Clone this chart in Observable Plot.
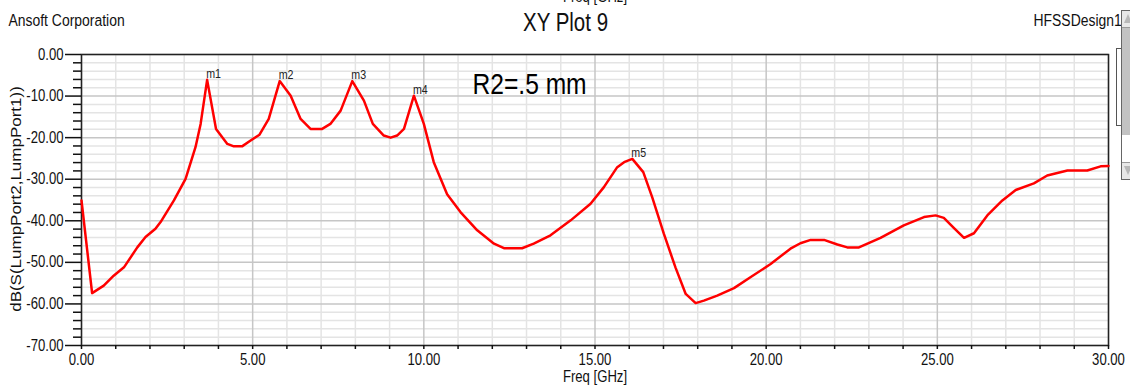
<!DOCTYPE html>
<html>
<head>
<meta charset="utf-8">
<script src="https://cdn.jsdelivr.net/npm/d3@7"></script>
<script src="https://cdn.jsdelivr.net/npm/@observablehq/plot@0.6"></script>
<style>
  html, body { margin: 0; padding: 0; background: #fff; }
  #wrap { position: relative; width: 1130px; height: 385px; overflow: hidden; }
  .abs { position: absolute; box-sizing: border-box; }
</style>
</head>
<body>
<div id="wrap">
  <div id="chart"></div>
  <div class="abs" style="left:1116px;top:48px;width:6px;height:78px;border:1px solid #555;border-right:none;background:#fff"></div>
  <div class="abs" style="left:1121px;top:10px;width:12px;height:170px;border:1px solid #666;background:#fff"></div>
  <div class="abs" style="left:1122px;top:11px;width:10px;height:17px;background:#e8e8e8;border-bottom:1px solid #999"></div>
  <div class="abs" style="left:1124px;top:14px;width:0;height:0;border-left:4px solid transparent;border-right:4px solid transparent;border-bottom:9px solid #b8b8b8"></div>
  <div class="abs" style="left:1122px;top:28px;width:10px;height:107px;background:#c2c2c2"></div>
  <div class="abs" style="left:1122px;top:162px;width:10px;height:17px;background:#e8e8e8;border-top:1px solid #999"></div>
  <div class="abs" style="left:1124px;top:166px;width:0;height:0;border-left:4px solid transparent;border-right:4px solid transparent;border-top:9px solid #b8b8b8"></div>
</div>
<script>
// ---- data ----
const freq = [
  0.00, 0.31, 0.65, 0.94, 1.24, 1.63, 1.87, 2.16, 2.31, 2.70,
  3.04, 3.33, 3.48, 3.67, 3.93, 4.26, 4.45, 4.69, 4.94, 5.20,
  5.47, 5.79, 6.11, 6.40, 6.69, 7.03, 7.27, 7.57, 7.91, 8.25,
  8.51, 8.83, 9.03, 9.22, 9.42, 9.71, 10.00, 10.29, 10.68, 11.07,
  11.56, 12.05, 12.34, 12.87, 13.21, 13.70, 14.29, 14.87, 15.26, 15.65,
  15.85, 16.09, 16.41, 16.67, 17.01, 17.35, 17.65, 17.94, 18.18, 18.57,
  19.06, 19.54, 20.13, 20.71, 21.00, 21.30, 21.69, 22.08, 22.37, 22.71,
  23.34, 24.02, 24.61, 24.95, 25.19, 25.48, 25.78, 26.07, 26.46, 26.90,
  27.29, 27.82, 28.21, 28.80, 29.38, 29.77, 30.00
];
const dB = [
  -35.1, -57.4, -55.6, -53.2, -51.2, -46.4, -43.9, -41.9, -40.3, -35.1,
  -29.9, -22.3, -16.7, -6.1, -17.9, -21.5, -22.1, -22.1, -20.7, -19.3,
  -15.5, -6.4, -9.9, -15.5, -17.9, -17.9, -16.7, -13.5, -6.4, -11.1,
  -16.7, -19.5, -20.0, -19.5, -17.9, -9.9, -16.7, -25.9, -33.6, -37.9,
  -42.3, -45.5, -46.6, -46.6, -45.5, -43.5, -39.9, -35.9, -31.9, -27.1,
  -25.9, -25.1, -28.3, -34.3, -43.1, -51.2, -57.6, -59.8, -59.2, -58.0,
  -56.2, -53.6, -50.4, -46.7, -45.4, -44.6, -44.6, -45.7, -46.4, -46.4,
  -44.1, -41.1, -39.1, -38.7, -39.3, -41.7, -44.1, -43.0, -38.7, -35.1,
  -32.6, -31.0, -29.1, -27.9, -27.9, -26.9, -26.8
];
const markerNames = ["m1", "m2", "m3", "m4", "m5"];
const markerFreq  = [3.67, 5.79, 7.91, 9.71, 16.09];
const markerDB    = [-6.1, -6.4, -6.4, -9.9, -25.1];

const xMajorTicks = [0, 5, 10, 15, 20, 25, 30];
const xMinorTicks = [1,2,3,4,6,7,8,9,11,12,13,14,16,17,18,19,21,22,23,24,26,27,28,29];
const yMajorTicks = [0, -10, -20, -30, -40, -50, -60, -70];
const yMinorTicks = [-2,-4,-6,-8,-12,-14,-16,-18,-22,-24,-26,-28,-32,-34,-36,-38,
                     -42,-44,-46,-48,-52,-54,-56,-58,-62,-64,-66,-68];

const titleText = "XY Plot 9";
const leftTitle = "Ansoft Corporation";
const rightTitle = "HFSSDesign1";
const noteText = "R2=.5 mm";
const xLabel = "Freq [GHz]";
const yLabel = "dB(S(LumpPort2,LumpPort1))";

const series = freq.map((f, i) => ({f, v: dB[i]}));
const markers = markerNames.map((n, i) => ({n, f: markerFreq[i], v: markerDB[i]}));

const font = "'Liberation Sans', Arial, sans-serif";
const fmt = d => d.toFixed(2);

const chart = Plot.plot({
  width: 1130, height: 385,
  marginLeft: 81, marginRight: 22, marginTop: 54, marginBottom: 40,
  x: {domain: [0, 30]},
  y: {domain: [-70, 0]},
  style: {fontFamily: font, background: "white", color: "#111", overflow: "hidden"},
  marks: [
    Plot.ruleX(xMinorTicks, {stroke: "#e4e4e4", strokeWidth: 1.5}),
    Plot.ruleY(yMinorTicks, {stroke: "#e4e4e4", strokeWidth: 1.5}),
    Plot.ruleX(xMajorTicks, {stroke: "#c6c6c6", strokeWidth: 1.5}),
    Plot.ruleY(yMajorTicks, {stroke: "#c6c6c6", strokeWidth: 1.5}),
    Plot.frame({stroke: "#222", strokeWidth: 1.5}),
    Plot.axisY(yMinorTicks, {tickSize: 8, tickFormat: () => "", label: null, strokeWidth: 1.5}),
    Plot.axisY(yMajorTicks, {tickSize: 16, tickPadding: 2, tickFormat: fmt, label: null, fontSize: 16, strokeWidth: 1.5}),
    Plot.axisX(xMinorTicks, {tickSize: 4, tickFormat: () => "", label: null, strokeWidth: 1.5}),
    Plot.axisX(xMajorTicks, {tickSize: 4, tickPadding: 4, tickFormat: fmt, label: null, fontSize: 16, strokeWidth: 1.5}),
    Plot.line(series, {x: "f", y: "v", stroke: "#ff0000", strokeWidth: 2.5}),
    Plot.text(markers, {x: "f", y: "v", text: "n", textAnchor: "start", lineAnchor: "bottom", dx: -1, dy: -2, fontSize: 13, fill: "#222"}),
    Plot.text([noteText], {frameAnchor: "top-left", text: d => d, textAnchor: "start", lineAnchor: "bottom", dx: 391, dy: 39, fontSize: 30, fill: "#000"}),
    Plot.text([leftTitle], {frameAnchor: "top-left", text: d => d, textAnchor: "start", lineAnchor: "bottom", dx: -73, dy: -29, fontSize: 17, fill: "#111"}),
    Plot.text([titleText], {frameAnchor: "top", text: d => d, textAnchor: "middle", lineAnchor: "bottom", dx: -29.5, dy: -24, fontSize: 25, fill: "#111"}),
    Plot.text([rightTitle], {frameAnchor: "top-right", text: d => d, textAnchor: "start", lineAnchor: "bottom", dx: -75, dy: -29, fontSize: 17, fill: "#111"}),
    Plot.text([xLabel], {frameAnchor: "top", text: d => d, textAnchor: "middle", lineAnchor: "bottom", dx: 0, dy: -52.5, fontSize: 16, fill: "#111"}),
    Plot.text([xLabel], {frameAnchor: "bottom", text: d => d, textAnchor: "middle", lineAnchor: "bottom", dx: 0, dy: 36, fontSize: 16, fill: "#111"}),
    Plot.text([yLabel], {frameAnchor: "left", text: d => d, rotate: -90, textAnchor: "middle", lineAnchor: "middle", dx: -65, dy: -1, fontSize: 17, fill: "#111"})
  ]
});
// The reference's type is horizontally condensed: compress each text around its own anchor.
d3.select(chart).selectAll("text").each(function () {
  const t = this.getAttribute("transform") || "";
  this.setAttribute("transform", t + (t.includes("rotate") ? " scale(1,0.82)" : " scale(0.82,1)"));
});
document.getElementById("chart").appendChild(chart);
</script>
</body>
</html>
